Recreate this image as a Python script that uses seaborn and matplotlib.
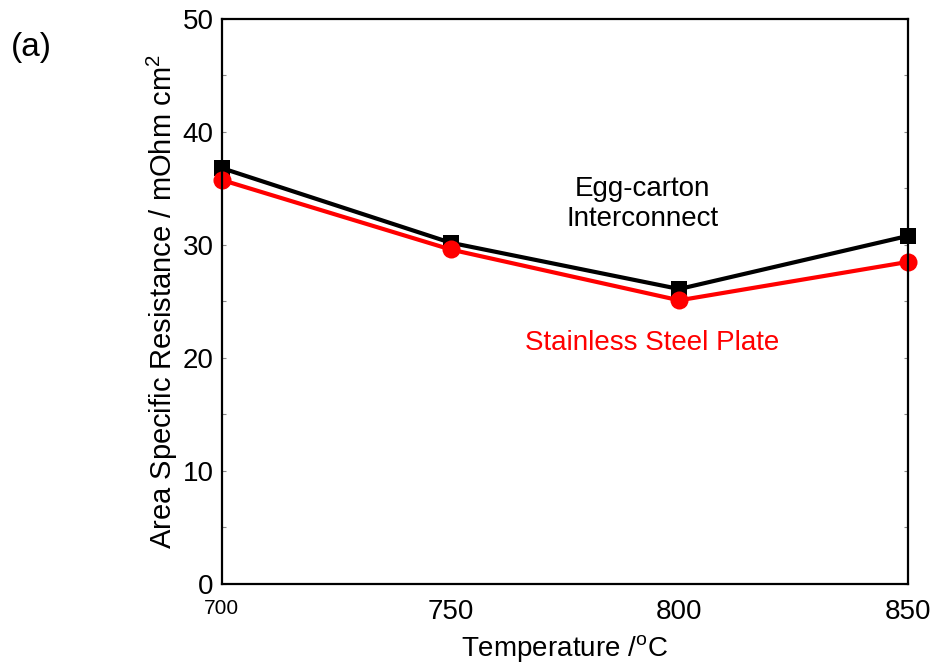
import matplotlib
matplotlib.use("Agg")
import matplotlib.pyplot as plt
from matplotlib.ticker import MultipleLocator
import seaborn as sns
import pandas as pd

temperatures = [700, 750, 800, 850]
egg_carton = [36.8, 30.2, 26.1, 30.8]
stainless = [35.75, 29.6, 25.1, 28.5]
series_names = ["Egg-carton Interconnect", "Stainless Steel Plate"]
x_ticks = [700, 750, 800, 850]
y_ticks = [0, 10, 20, 30, 40, 50]

df = pd.DataFrame({
    "Temperature": temperatures * 2,
    "ASR": egg_carton + stainless,
    "Series": [series_names[0]] * 4 + [series_names[1]] * 4,
})

sns.set_theme(style="white")
plt.rcParams["font.family"] = ["Liberation Sans", "DejaVu Sans"]
plt.rcParams["text.color"] = "black"
plt.rcParams["axes.labelcolor"] = "black"
plt.rcParams["xtick.color"] = "black"
plt.rcParams["ytick.color"] = "black"

fig = plt.figure(figsize=(9.36, 6.64), dpi=100)
ax = fig.add_axes([0.237, 0.1205, 0.733, 0.851])

sns.lineplot(data=df, x="Temperature", y="ASR", hue="Series", style="Series",
             palette={series_names[0]: "black", series_names[1]: "#ff0000"},
             markers={series_names[0]: "s", series_names[1]: "o"},
             dashes=False, linewidth=3, markeredgewidth=0, legend=False,
             ax=ax, clip_on=False)
for line in ax.lines:
    if line.get_marker() == "s":
        line.set_markersize(11)
    else:
        line.set_markersize(13)
    line.set_clip_on(False)

ax.set_xlim(700, 850)
ax.set_ylim(0, 50)
ax.set_xticks(x_ticks)
ax.set_yticks(y_ticks)
ax.yaxis.set_minor_locator(MultipleLocator(5))
ax.tick_params(axis="y", which="both", direction="in", length=3, width=0.8,
               color="#888888", labelcolor="black", left=True, right=True,
               labelsize=20, pad=6)
ax.tick_params(axis="x", which="both", length=0, labelsize=20, pad=11,
               labelcolor="black")
for lbl in ax.get_xticklabels():
    if lbl.get_text() == "700":
        lbl.set_fontsize(15)

for sp in ax.spines.values():
    sp.set_color("black")
    sp.set_linewidth(1.6)

ax.set_xlabel("Temperature /$^{\\mathregular{o}}$C", fontsize=20, labelpad=6,
              color="black")
ax.set_ylabel("Area Specific Resistance / mOhm cm$^{\\mathregular{2}}$",
              fontsize=21, labelpad=2, color="black")

ax.text(792, 33.6, "Egg-carton\nInterconnect", ha="center", va="center",
        fontsize=20, color="black", linespacing=1.2)
ax.text(794, 21.3, "Stainless Steel Plate", ha="center", va="center",
        fontsize=20, color="#ff0000")

fig.text(0.033, 0.928, "(a)", fontsize=24, ha="center", va="center",
         color="black")

fig.savefig("out.png", dpi=100)
